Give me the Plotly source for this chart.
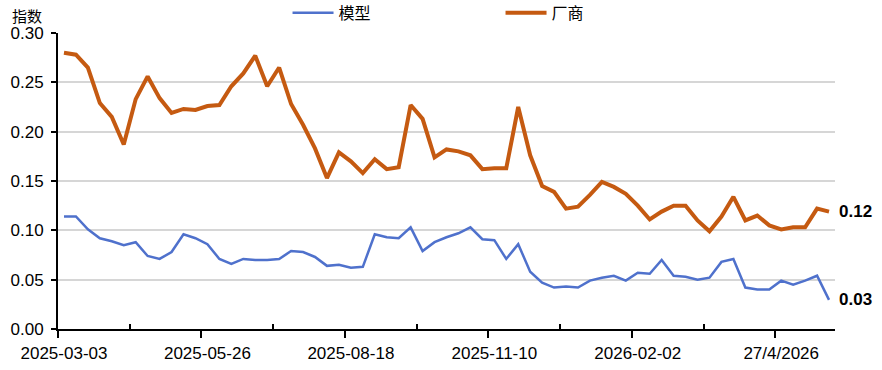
import datetime as dt
import plotly.graph_objects as go

# ---- data ----
start = dt.date(2025, 3, 3)
n_weeks = 65
dates = [(start + dt.timedelta(weeks=i)).isoformat() for i in range(n_weeks)]

model = [0.114, 0.114, 0.101, 0.092, 0.089, 0.085, 0.088, 0.074, 0.071, 0.078,
         0.096, 0.092, 0.086, 0.071, 0.066, 0.071, 0.070, 0.070, 0.071, 0.079,
         0.078, 0.073, 0.064, 0.065, 0.062, 0.063, 0.096, 0.093, 0.092, 0.103,
         0.079, 0.088, 0.093, 0.097, 0.103, 0.091, 0.090, 0.071, 0.086, 0.058,
         0.047, 0.042, 0.043, 0.042, 0.049, 0.052, 0.054, 0.049, 0.057, 0.056,
         0.070, 0.054, 0.053, 0.050, 0.052, 0.068, 0.071, 0.042, 0.040, 0.040,
         0.049, 0.045, 0.049, 0.054, 0.0295]

vendor = [0.280, 0.278, 0.265, 0.229, 0.215, 0.187, 0.233, 0.256, 0.234, 0.219,
          0.223, 0.222, 0.226, 0.227, 0.246, 0.259, 0.277, 0.246, 0.265, 0.228,
          0.207, 0.183, 0.153, 0.179, 0.170, 0.158, 0.172, 0.162, 0.164, 0.227,
          0.213, 0.174, 0.182, 0.180, 0.176, 0.162, 0.163, 0.163, 0.225, 0.176,
          0.145, 0.139, 0.122, 0.124, 0.136, 0.149, 0.144, 0.137, 0.125, 0.111,
          0.119, 0.125, 0.125, 0.110, 0.099, 0.114, 0.134, 0.110, 0.115, 0.105,
          0.101, 0.103, 0.103, 0.122, 0.119]

label_idx = [0, 12, 24, 36, 48, 60]
label_text = ["2025-03-03", "2025-05-26", "2025-08-18", "2025-11-10", "2026-02-02", "27/4/2026"]
major_tick_pos = [-0.5, 11.5, 23.5, 35.5, 47.5, 59.5]
minor_tick_pos = [5.5, 17.5, 29.5, 41.5, 53.5]

names = ["模型", "厂商"]
colors = ["#4F71CC", "#C55A11"]

LAT = "Liberation Sans, Arial, sans-serif"
CJK = "Noto Sans CJK SC, sans-serif"

x = list(range(n_weeks))

fig = go.Figure()
fig.add_trace(go.Scatter(x=x, y=model, mode="lines", name=names[0],
                         line=dict(color=colors[0], width=2.5),
                         customdata=dates, hovertemplate="%{customdata}: %{y:.3f}"))
fig.add_trace(go.Scatter(x=x, y=vendor, mode="lines", name=names[1],
                         line=dict(color=colors[1], width=4),
                         customdata=dates, hovertemplate="%{customdata}: %{y:.3f}"))
# dummy trace to activate the label axis
fig.add_trace(go.Scatter(x=[0], y=[None], xaxis="x2", yaxis="y", mode="lines",
                         showlegend=False, hoverinfo="skip"))

# end labels
for series in (vendor, model):
    fig.add_annotation(x=x[-1], y=series[-1], xref="x", yref="y",
                       text=f"<b>{series[-1]:.2f}</b>", showarrow=False,
                       xanchor="left", yanchor="middle", xshift=8,
                       font=dict(family=LAT, size=17, color="black"))

# y axis title
fig.add_annotation(x=0, y=1, xref="paper", yref="paper", text="指数",
                   showarrow=False, xanchor="center", yanchor="middle",
                   xshift=-31, yshift=18,
                   font=dict(family=CJK, size=15, color="black"))

fig.update_layout(
    width=882, height=370,
    margin=dict(l=58, r=47, t=33, b=41, autoexpand=False),
    paper_bgcolor="white", plot_bgcolor="white",
    showlegend=True,
    legend=dict(orientation="h", xref="container", yref="container",
                x=0.326, y=0.965, xanchor="left", yanchor="middle",
                entrywidth=157, entrywidthmode="pixels", itemwidth=41,
                font=dict(family=CJK, size=16, color="black"),
                bgcolor="rgba(0,0,0,0)"),
    xaxis=dict(range=[-0.5, n_weeks - 0.5], showgrid=False, zeroline=False,
               showline=True, linecolor="black", linewidth=2,
               tickmode="array", tickvals=major_tick_pos, ticks="outside",
               ticklen=7, tickwidth=2, tickcolor="black", showticklabels=False,
               minor=dict(tickmode="array", tickvals=minor_tick_pos, ticks="inside",
                          ticklen=5, tickwidth=2, tickcolor="black", showgrid=False)),
    xaxis2=dict(overlaying="x", anchor="y", side="bottom",
                range=[-0.5, n_weeks - 0.5], showgrid=False, zeroline=False,
                showline=False, tickmode="array", tickvals=label_idx,
                ticktext=label_text, ticks="", ticklabelstandoff=12,
                tickfont=dict(family=LAT, size=17, color="black")),
    yaxis=dict(range=[0, 0.30], dtick=0.05, tick0=0, tickformat=".2f",
               showgrid=True, gridcolor="#d6d6d6", gridwidth=1.5, zeroline=False,
               showline=True, linecolor="black", linewidth=2,
               ticks="outside", ticklen=5, tickwidth=2, tickcolor="black",
               ticklabelstandoff=4,
               tickfont=dict(family=LAT, size=17, color="black")),
)

fig.write_html("out.html")
